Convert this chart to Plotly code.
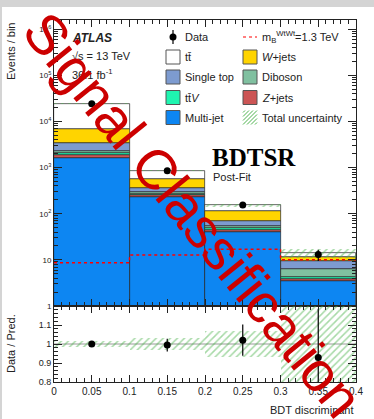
import plotly.graph_objects as go

# ---------------- data ----------------
bin_edges = [0.0, 0.1, 0.2, 0.3, 0.4]
bin_centers = [0.05, 0.15, 0.25, 0.35]

# background processes, stacked bottom -> top
multijet = [1620, 234, 40.5, 3.4]
zjets = [300, 15, 3.0, 0.35]
ttv = [150, 18, 5.0, 0.4]
diboson = [180, 23, 6.5, 2.15]
single_top = [1190, 70, 15.0, 2.9]
wjets = [3460, 205, 42.0, 2.4]
ttbar = [17300, 300, 39.0, 2.4]

data = [24200, 860, 154, 13.0]
signal = [8.7, 12.8, 17.0, 10.0]            # m_B = 1.3 TeV
rel_unc = [0.015, 0.03, 0.068, 0.22]      # total relative uncertainty

x_tick_vals = [0, 0.05, 0.1, 0.15, 0.2, 0.25, 0.3, 0.35, 0.4]
x_tick_text = ["0", "0.05", "0.1", "0.15", "0.2", "0.25", "0.3", "0.35", "0.4"]
y_tick_vals = [1, 10, 100, 1e3, 1e4, 1e5, 1e6]
y_tick_text = ["1", "10", "10<sup>2</sup>", "10<sup>3</sup>", "10<sup>4</sup>",
               "10<sup>5</sup>", "10<sup>6</sup>"]
r_tick_vals = [0.8, 0.9, 1.0, 1.1]
r_tick_text = ["0.8", "0.9", "1", "1.1"]

processes = [
    ("Multi-jet", multijet, "#0d86f2"),
    ("Z+jets", zjets, "#cc5555"),
    ("ttV", ttv, "#1ff5b0"),
    ("Diboson", diboson, "#80c0a0"),
    ("Single top", single_top, "#7d9bd0"),
    ("W+jets", wjets, "#ffd400"),
    ("ttbar", ttbar, "#ffffff"),
]

FONT = "Liberation Sans, Arial, sans-serif"
INK = "#222222"
HATCH = "#4db34d"
BIN_W = bin_edges[1] - bin_edges[0]
FLOOR = 0.1

fig = go.Figure()

# stacked histogram
cum = [FLOOR] * len(bin_centers)
for name, vals, col in processes:
    fig.add_trace(go.Bar(
        x=bin_centers, y=list(vals), base=list(cum),
        width=BIN_W, name=name, xaxis="x", yaxis="y",
        marker=dict(color=col, line=dict(color=INK, width=0.7)),
    ))
    cum = [c + v for c, v in zip(cum, vals)]

total = [sum(p[1][i] for p in processes) for i in range(len(bin_centers))]

hatch = dict(color="rgba(0,0,0,0)", line=dict(width=0),
             pattern=dict(shape="/", fgcolor=HATCH, bgcolor="rgba(0,0,0,0)",
                          size=5, solidity=0.3, fillmode="overlay"))

# total uncertainty band (main panel)
fig.add_trace(go.Bar(
    x=bin_centers,
    y=[t * 2 * u for t, u in zip(total, rel_unc)],
    base=[t * (1 - u) for t, u in zip(total, rel_unc)],
    width=BIN_W, xaxis="x", yaxis="y", marker=hatch,
))

# signal
fig.add_trace(go.Scatter(
    x=bin_edges, y=signal + [signal[-1]], mode="lines", line_shape="hv",
    line=dict(color="#ff0000", width=1.5, dash="dot"), xaxis="x", yaxis="y",
))

# data
fig.add_trace(go.Scatter(
    x=bin_centers, y=data, mode="markers", xaxis="x", yaxis="y",
    marker=dict(color="black", size=7),
    error_y=dict(type="data", array=[d ** 0.5 for d in data], color="black",
                 thickness=1.2, width=0),
))

# ratio panel
ratio = [d / t for d, t in zip(data, total)]
ratio_err = [d ** 0.5 / t for d, t in zip(data, total)]
fig.add_trace(go.Bar(
    x=bin_centers, y=[2 * u for u in rel_unc], base=[1 - u for u in rel_unc],
    width=BIN_W, xaxis="x2", yaxis="y2", marker=hatch,
))
fig.add_trace(go.Scatter(
    x=bin_centers, y=ratio, mode="markers", xaxis="x2", yaxis="y2",
    marker=dict(color="black", size=7),
    error_y=dict(type="data", array=ratio_err, color="black", thickness=1.2, width=0),
))

# ---------------- layout ----------------
W, H = 374, 419
ML, MR, MT, MB = 54, 18, 20, 37
PW, PH = W - ML - MR, H - MT - MB


def px(x):
    return (x - ML) / PW


def py(y):
    return (H - MB - y) / PH


split = py(306)

axis_common = dict(showgrid=False, zeroline=False, linecolor=INK, linewidth=1,
                   mirror="allticks", ticks="inside", tickcolor=INK, tickwidth=1,
                   tickfont=dict(family=FONT, size=10, color=INK))

minor_log = [k * 10 ** n for n in range(0, 7) for k in range(2, 10)]

fig.update_layout(
    width=W, height=H, margin=dict(l=ML, r=MR, t=MT, b=MB),
    paper_bgcolor="white", plot_bgcolor="white", showlegend=False,
    barmode="overlay", bargap=0,
    xaxis=dict(domain=[0, 1], anchor="y", range=[0, 0.4], showticklabels=False,
               tickvals=x_tick_vals, ticklen=7,
               minor=dict(ticks="inside", ticklen=4, dtick=0.01, tick0=0,
                          tickcolor=INK, showgrid=False),
               **axis_common),
    xaxis2=dict(domain=[0, 1], anchor="y2", range=[0, 0.4], matches="x",
                tickvals=x_tick_vals, ticktext=x_tick_text, ticklen=7,
                minor=dict(ticks="inside", ticklen=4, dtick=0.01, tick0=0,
                           tickcolor=INK, showgrid=False),
                **axis_common),
    yaxis=dict(domain=[split, 1], anchor="x", type="log", range=[0, 6.2],
               tickvals=y_tick_vals, ticktext=y_tick_text, ticklen=8,
               minor=dict(ticks="inside", ticklen=4, tickmode="array",
                          tickvals=minor_log, tickcolor=INK, showgrid=False),
               **{**axis_common, "tickfont": dict(family=FONT, size=8, color=INK)}),
    yaxis2=dict(domain=[0, split], anchor="x2", range=[0.8, 1.2],
                tickvals=r_tick_vals, ticktext=r_tick_text, ticklen=8,
                minor=dict(ticks="inside", ticklen=4, dtick=0.02, tick0=0.8,
                           tickcolor=INK, showgrid=False),
                **{**axis_common, "tickfont": dict(family=FONT, size=9, color=INK)}),
)

shapes = []
# unity line in ratio panel
shapes.append(dict(type="line", xref="x2", yref="y2", x0=bin_edges[0], x1=bin_edges[-1],
                   y0=1, y1=1, line=dict(color="#999999", width=1), layer="below"))

# window frame strips
shapes.append(dict(type="rect", xref="paper", yref="paper", x0=px(0), x1=px(W),
                   y0=py(7), y1=py(0), fillcolor="#d4d4d4", line=dict(width=0)))
shapes.append(dict(type="rect", xref="paper", yref="paper", x0=px(0), x1=px(2),
                   y0=py(H), y1=py(0), fillcolor="#d4d4d4", line=dict(width=0)))

annotations = []


def text(x, y, s, size=11, anchor="left", **kw):
    annotations.append(dict(xref="paper", yref="paper", x=px(x), y=py(y), text=s,
                            showarrow=False, xanchor=anchor, yanchor="middle",
                            font=dict(family=kw.pop("family", FONT), size=size,
                                      color=kw.pop("color", INK)), **kw))


# legend
rows = [37, 57, 77, 97.5, 117.5]
c1, c2 = 166, 243
box = 14
legend_boxes = [
    (c1, rows[1], "#ffffff", "tt\u0304"),
    (c2, rows[1], "#ffd400", "<i>W</i>+jets"),
    (c1, rows[2], "#7d9bd0", "Single top"),
    (c2, rows[2], "#80c0a0", "Diboson"),
    (c1, rows[3], "#1ff5b0", "tt\u0304<i>V</i>"),
    (c2, rows[3], "#cc5555", "<i>Z</i>+jets"),
    (c1, rows[4], "#0d86f2", "Multi-jet"),
]
for x0, yc, col, label in legend_boxes:
    shapes.append(dict(type="rect", xref="paper", yref="paper",
                       x0=px(x0), x1=px(x0 + box), y0=py(yc + box / 2), y1=py(yc - box / 2),
                       fillcolor=col, line=dict(color="#555555", width=1)))
    text(x0 + box + 3, yc, label)

# data legend entry
shapes.append(dict(type="line", xref="paper", yref="paper", x0=px(c1 + 7), x1=px(c1 + 7),
                   y0=py(rows[0] - 7), y1=py(rows[0] + 7), line=dict(color="black", width=1.2)))
shapes.append(dict(type="circle", xref="paper", yref="paper", x0=px(c1 + 3.5), x1=px(c1 + 10.5),
                   y0=py(rows[0] + 3.5), y1=py(rows[0] - 3.5), fillcolor="black",
                   line=dict(color="black", width=0)))
text(c1 + box + 3, rows[0], "Data")
# signal legend entry
shapes.append(dict(type="line", xref="paper", yref="paper", x0=px(c2), x1=px(c2 + box),
                   y0=py(rows[0]), y1=py(rows[0]),
                   line=dict(color="#ff0000", width=1.2, dash="dot")))
text(c2 + box + 3, rows[0], "m<sub>B</sub><sup>WtWt</sup>=1.3 TeV")
# uncertainty legend entry (hatched box)
for k in range(-3, 4):
    off = k * 4
    xa, ya = c2 + off, rows[4] + box / 2
    xb, yb = c2 + off + box, rows[4] - box / 2
    if xa < c2:
        ya -= (c2 - xa); xa = c2
    if xb > c2 + box:
        yb += (xb - c2 - box); xb = c2 + box
    if xb > xa:
        shapes.append(dict(type="line", xref="paper", yref="paper", x0=px(xa), x1=px(xb),
                           y0=py(ya), y1=py(yb), line=dict(color=HATCH, width=1)))
text(c2 + box + 3, rows[4], "Total uncertainty")

# labels
text(70, 38, "<b><i>ATLAS</i></b>", size=12)
text(70, 56, "\u221as = 13 TeV", size=11)
text(70, 74, "36.1 fb<sup>-1</sup>", size=11)
text(210, 157, "<b>BDTSR</b>", size=25, family="Liberation Serif, Times New Roman, serif",
     color="black")
text(211, 177, "Post-Fit", size=11)
text(356, 410, "BDT discriminant", size=11, anchor="right")
annotations.append(dict(xref="paper", yref="paper", x=px(11), y=py(52), text="Events / bin",
                        textangle=-90, showarrow=False, xanchor="center", yanchor="middle",
                        font=dict(family=FONT, size=11, color=INK)))
annotations.append(dict(xref="paper", yref="paper", x=px(11), y=py(344), text="Data / Pred.",
                        textangle=-90, showarrow=False, xanchor="center", yanchor="middle",
                        font=dict(family=FONT, size=11, color=INK)))

# diagonal overlay caption
annotations.append(dict(xref="paper", yref="paper", x=px(193), y=py(214),
                        text="Signal Classification", textangle=51, showarrow=False,
                        xanchor="center", yanchor="middle",
                        font=dict(family=FONT, size=56, color="#cc0000")))

fig.update_layout(shapes=shapes, annotations=annotations)

fig.write_html("out.html")
